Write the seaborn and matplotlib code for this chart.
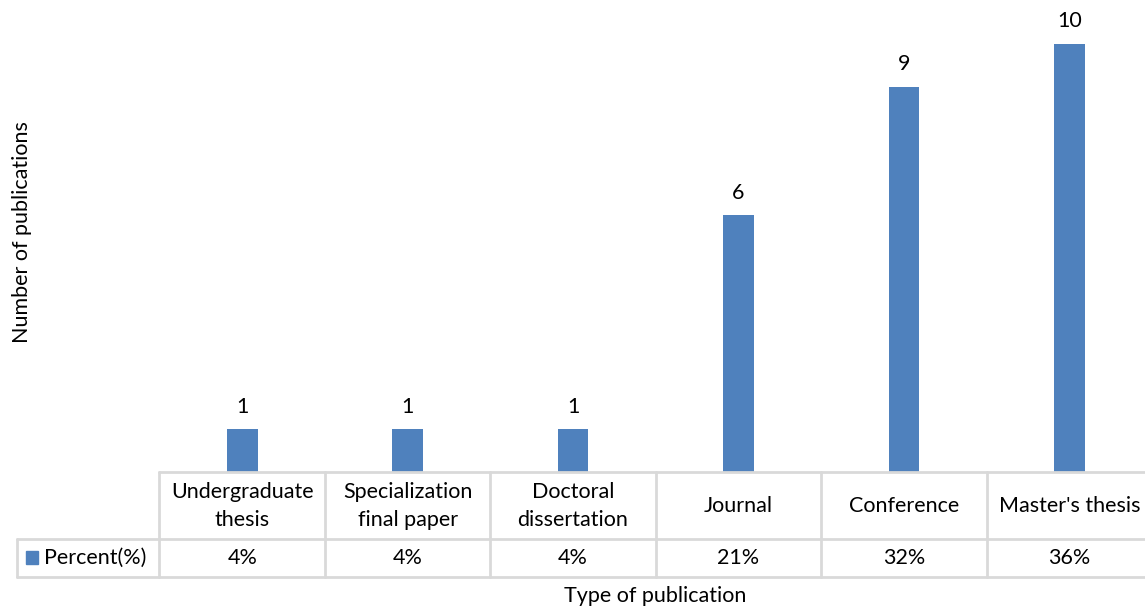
import matplotlib
matplotlib.use("Agg")
import matplotlib.pyplot as plt
import seaborn as sns
import pandas as pd

categories = ["Undergraduate\nthesis", "Specialization\nfinal paper", "Doctoral\ndissertation",
              "Journal", "Conference", "Master's thesis"]
counts = [1, 1, 1, 6, 9, 10]
percent_labels = ["4%", "4%", "4%", "21%", "32%", "36%"]
series_name = "Percent(%)"

sns.set_theme(style="white")
plt.rcParams["font.family"] = ["Lato", "DejaVu Sans"]

W, H = 1145, 609
fig = plt.figure(figsize=(W / 100, H / 100), dpi=100)

# plot area in pixel coordinates
x0, x1 = 159.5, 1152.0
y_base, y_top = 472.0, 1.0
ax = fig.add_axes([x0 / W, 1 - y_base / H, (x1 - x0) / W, (y_base - y_top) / H])

bar_color = "#4f81bd"
df = pd.DataFrame({"cat": categories, "n": counts})
sns.barplot(data=df, x="cat", y="n", color=bar_color, width=0.185, ax=ax,
            saturation=1, edgecolor="none")
ax.set_ylim(0, 11)
ax.set_xlim(-0.5, len(categories) - 0.5)
for s in ax.spines.values():
    s.set_visible(False)
ax.set_xticks([])
ax.set_yticks([])
ax.set_xlabel("")
ax.set_ylabel("")

fs = 15.5
for i, v in enumerate(counts):
    ax.annotate(str(v), (i, v), xytext=(0, 9), textcoords="offset points",
                ha="center", va="bottom", fontsize=fs, color="#000000")

# data table underneath the plot area
grid = "#d9d9d9"
lw = 2.0
def fx(px):
    return px / W
def fy(py):
    return 1 - py / H

row1, row2 = 539.0, 577.0
left_col = 17.0
cell_w = (x1 - x0) / len(categories)

fig.add_artist(plt.Line2D([fx(x0), fx(W)], [fy(y_base), fy(y_base)], color=grid, lw=lw))
fig.add_artist(plt.Line2D([fx(left_col), fx(W)], [fy(row1), fy(row1)], color=grid, lw=lw))
fig.add_artist(plt.Line2D([fx(left_col), fx(W)], [fy(row2), fy(row2)], color=grid, lw=lw))
fig.add_artist(plt.Line2D([fx(left_col), fx(left_col)], [fy(row1), fy(row2)], color=grid, lw=lw))
for k in range(len(categories)):
    xe = x0 + k * cell_w
    fig.add_artist(plt.Line2D([fx(xe), fx(xe)], [fy(y_base), fy(row2)], color=grid, lw=lw))

for k, (cat, pct) in enumerate(zip(categories, percent_labels)):
    xc = x0 + (k + 0.5) * cell_w
    fig.text(fx(xc), fy((y_base + row1) / 2 + 0.5), cat, ha="center", va="center",
             fontsize=fs, linespacing=1.45, color="#000000")
    fig.text(fx(xc), fy((row1 + row2) / 2), pct, ha="center", va="center",
             fontsize=fs, color="#000000")

# legend key and row label
fig.patches.append(plt.Rectangle((fx(26), fy(564)), 12 / W, 13 / H,
                                 transform=fig.transFigure, color=bar_color))
fig.text(fx(44), fy(558), series_name, ha="left", va="center", fontsize=fs, color="#000000")

fig.text(fx(655), fy(596), "Type of publication", ha="center", va="center",
         fontsize=fs, color="#000000")
fig.text(fx(22), fy(232), "Number of publications", ha="center", va="center",
         rotation=90, fontsize=fs, color="#000000")

fig.savefig("out.png", dpi=100, facecolor="white")
